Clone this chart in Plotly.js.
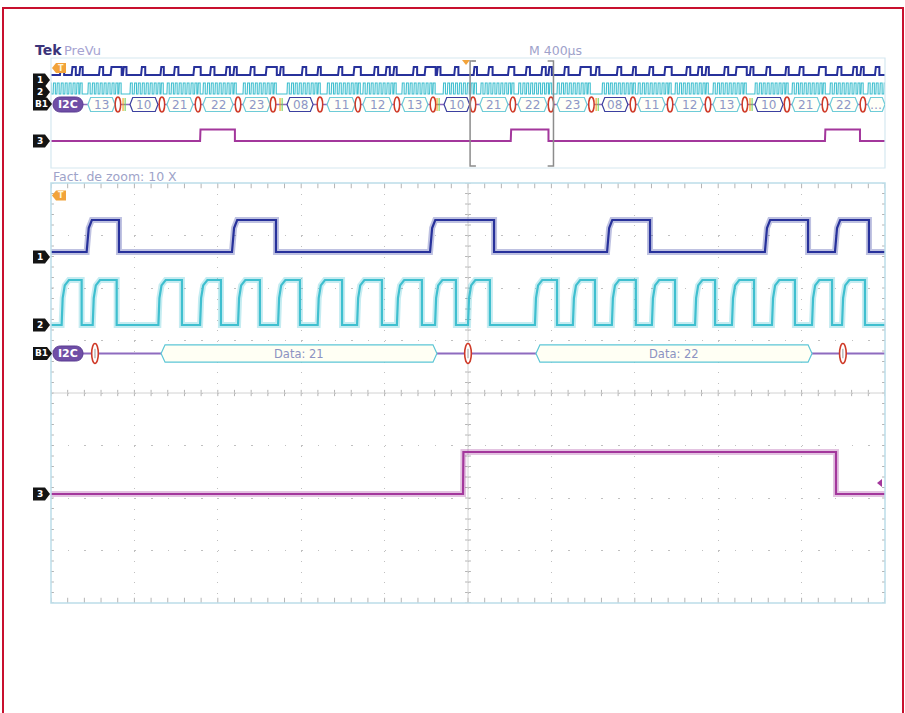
<!DOCTYPE html>
<html><head><meta charset="utf-8">
<script src="https://cdn.plot.ly/plotly-3.0.1.min.js"></script>
<style>html,body{margin:0;padding:0;background:#fff;}#chart{width:905px;height:713px;}</style>
</head><body><div id="chart"></div>
<script>
// ================= DATA (times in microseconds) =================
// Zoomed view: 40 µs/div, 10 div
const mainCh1Rise = [17.1, 86.8, 181.8, 266.7, 342.4, 376.0];
const mainCh1Fall = [32.6, 107.9, 212.5, 287.3, 363.1, 392.3];
const mainCh2Rise = [5.1, 20.0, 51.5, 71.5, 89.7, 108.9, 127.9, 146.8, 165.9, 184.2, 200.0, 232.1, 250.3, 269.0, 288.2, 308.9, 326.6, 345.8, 365.0, 379.4];
const mainCh2Fall = [14.7, 31.5, 62.8, 81.5, 100.2, 119.4, 139.6, 158.7, 177.9, 194.2, 210.5, 242.7, 260.9, 280.5, 299.3, 318.5, 337.2, 356.8, 374.6, 390.4];
const mainCh3Rise = [197.6];
const mainCh3Fall = [376.5];
const mainBusLabels = ['Data: 21', 'Data: 22'];
const mainBusStart = [52.8, 232.6];
const mainBusEnd = [185.1, 365.0];
const mainBusAck = [21.1, 200.0, 379.8];

// Overview (PreVu): 400 µs/div, 10 div
const ovCh1Rise = [43,99,136,230,286,345,432,525,590,683,763,838,875,955,1030,1098,1203,1278,1377,1451,1549,1605,1642,1736,1792,1851,1934,2027,2097,2192,2277,2352,2386,2461,2536,2612,2714,2789,2868,2942,3046,3102,3139,3228,3284,3352,3429,3522,3588,3681,3770,3845,3882,3952];
const ovCh1Fall = [63,119,152,250,339,362,452,541,611,718,784,858,891,976,1083,1115,1224,1294,1397,1486,1569,1625,1658,1756,1845,1868,1954,2043,2118,2222,2297,2373,2402,2482,2589,2630,2735,2805,2888,2977,3066,3122,3155,3248,3337,3369,3449,3538,3609,3716,3791,3865,3898,3973];
const ovByteStart = [-10,177,379,556,729,921,1132,1324,1496,1683,1881,2061,2242,2427,2643,2815,2993,3175,3376,3554,3736,3918];
const clockOffsets = [0, 20.0, 38.2, 57.4, 76.4, 95.3, 114.4, 132.7, 148.5];
const clockHigh = 10.8;
const ovCh3Rise = [715, 2205, 3712];
const ovCh3Fall = [882, 2386, 3880];
const ovBoxLabel = ['13','10','21','22','23','08','11','12','13','10','21','22','23','08','11','12','13','10','21','22','…'];
const ovBoxStart = [177,379,556,729,921,1132,1324,1496,1683,1885,2057,2240,2427,2643,2815,2993,3175,3376,3554,3736,3918];
const ovBoxEnd   = [307,513,681,873,1050,1257,1458,1635,1808,2008,2192,2379,2571,2767,2945,3127,3304,3511,3688,3870,4000];
const ovBoxAddr  = [0,1,0,0,0,1,0,0,0,1,0,0,0,1,0,0,0,1,0,0,0];
const ovAck = [321,532,705,897,1065,1290,1472,1659,1832,2024,2215,2398,2592,2791,2969,3151,3328,3530,3712,3894];
const ovStartMark = [350,1103,1856,2619,3357];
const zoomStart = 2010, zoomFactor = 10;
const chanLabels = ['1','2','B1','3'];

// ================= LAYOUT HELPERS =================
const W = 905, H = 713;
const P = (x, y) => (x / W) + ',' + (1 - y / H);
const FONT = 'DejaVu Sans, Verdana, sans-serif';
const C1 = '#27319b', C2 = '#3fbfcf', C3 = '#a3379c', CBUS = '#8e6bbf', CRED = '#cf3a28';
const M1 = [2.686, 3.295], M2 = [1.295, 2.152], M3 = [-1.924, -1.124], MB = 0.752;
const O1 = [75, 67], O2 = [94, 83], O3 = [141, 129.5], OB = 104.5;

const traces = [];
function addLine(xs, ys, color, width, xa, ya, op) {
  traces.push({type:'scatter', mode:'lines', x:xs, y:ys, xaxis:xa, yaxis:ya,
    line:{color:color, width:width}, opacity: op === undefined ? 1 : op,
    hoverinfo:'skip', showlegend:false});
}
function steps(rises, falls, lo, hi, t0, t1, shape) {
  const xs = [Math.min(t0, rises.length ? rises[0] : t0)], ys = [lo];
  for (let i = 0; i < rises.length; i++) {
    const r = rises[i], f = falls[i];
    shape.forEach(s => { xs.push(r + s[0]); ys.push(lo + (hi - lo) * s[1]); });
    xs.push(f); ys.push(hi); xs.push(f); ys.push(lo);
  }
  xs.push(t1); ys.push(lo);
  return [xs, ys];
}
function sig(rises, falls, lv, t0, t1, shape, color, xa, ya, w, halo) {
  const s = steps(rises, falls, lv[0], lv[1], t0, t1, shape);
  if (halo) addLine(s[0], s[1], color, halo, xa, ya, 0.3);
  addLine(s[0], s[1], color, w, xa, ya);
}

// ---- grid ticks (main) ----
const tx = [], ty = [];
for (let i = 0; i <= 50; i++) {
  const t = i * 8;
  tx.push(t, t, null); ty.push(-0.06, 0.06, null);
  tx.push(t, t, null); ty.push(4, 3.9, null);
  tx.push(t, t, null); ty.push(-4, -3.9, null);
}
for (let j = 0; j <= 40; j++) {
  const v = -4 + j * 0.2;
  tx.push(198.6, 201.4, null); ty.push(v, v, null);
  tx.push(0, 1.4, null); ty.push(v, v, null);
  tx.push(400, 398.6, null); ty.push(v, v, null);
}
addLine(tx, ty, '#b4b4b4', 1, 'x', 'y');
addLine([0, 400], [0, 0], '#d2d2d2', 1, 'x', 'y');
addLine([200, 200], [-4, 4], '#d2d2d2', 1, 'x', 'y');

// ---- main signals ----
sig(mainCh1Rise, mainCh1Fall, M1, 0, 400, [[0,0],[1.0,0.75],[2.5,1]], C1, 'x', 'y', 2.2, 6);
sig(mainCh2Rise, mainCh2Fall, M2, 0, 400, [[0,0],[0.5,0.6],[1.5,0.88],[3.5,1]], C2, 'x', 'y', 2.2, 6);
sig(mainCh3Rise, mainCh3Fall, M3, 0, 400, [[0,0],[0.2,1]], C3, 'x', 'y', 2.2, 6);
addLine([14.9, 400], [MB, MB], CBUS, 2, 'x', 'y');

// ---- overview signals ----
sig(ovCh1Rise, ovCh1Fall, O1, 0, 4000, [[0,0],[4,1]], C1, 'x2', 'y2', 2);
const ckR = [], ckF = [];
ovByteStart.forEach(S => clockOffsets.forEach(o => { ckR.push(S + o); ckF.push(S + o + clockHigh); }));
sig(ckR, ckF, O2, 0, 4000, [[0,0],[2,1]], C2, 'x2', 'y2', 1.1);
sig(ovCh3Rise, ovCh3Fall, O3, 0, 4000, [[0,0],[2,1]], C3, 'x2', 'y2', 2);
addLine([150, 4000], [OB, OB], CBUS, 1.5, 'x2', 'y2');

// ================= SHAPES & TEXT =================
const shapes = [], ann = [];
function hexPath(x0, x1, yc, hh, tp) {
  return `M ${x0},${yc} L ${x0+tp},${yc+hh} L ${x1-tp},${yc+hh} L ${x1},${yc} L ${x1-tp},${yc-hh} L ${x0+tp},${yc-hh} Z`;
}
function pill(x0, x1, y0, y1) {
  const r = (y1 - y0) / 2, k = r * 1.33;
  return `M ${P(x0+r,y0)} L ${P(x1-r,y0)} C ${P(x1-r+k,y0)} ${P(x1-r+k,y1)} ${P(x1-r,y1)} L ${P(x0+r,y1)} C ${P(x0+r-k,y1)} ${P(x0+r-k,y0)} ${P(x0+r,y0)} Z`;
}
function text(x, y, t, size, color, opts) {
  ann.push(Object.assign({x:x, y:y, xref:'paper', yref:'paper', text:t, showarrow:false,
    xanchor:'left', yanchor:'middle', font:{family:FONT, size:size, color:color}}, opts || {}));
}

// page border
shapes.push({type:'rect', xref:'paper', yref:'paper', x0:3/W, x1:903/W, y0:-0.05, y1:1-8/H, line:{color:'#c8102e', width:2}});
// frames
shapes.push({type:'rect', xref:'paper', yref:'paper', x0:51/W, x1:885/W, y0:1-603/H, y1:1-183/H, line:{color:'#bcdde9', width:1.5}});
shapes.push({type:'rect', xref:'paper', yref:'paper', x0:51/W, x1:885/W, y0:1-168/H, y1:1-58/H, line:{color:'#d5e8f0', width:1.2}});

// main bus decode
mainBusLabels.forEach((lab, i) => {
  shapes.push({type:'path', xref:'x', yref:'y', path:hexPath(mainBusStart[i], mainBusEnd[i], MB, 0.165, 1.9),
    fillcolor:'#fffff4', line:{color:'#5cc6d6', width:1.2}});
  ann.push({x:(mainBusStart[i]+mainBusEnd[i])/2, y:MB, xref:'x', yref:'y', text:lab, showarrow:false,
    font:{family:FONT, size:11.5, color:'#8c93c2'}});
});
mainBusAck.forEach(t => {
  shapes.push({type:'circle', xref:'x', yref:'y', x0:t-1.6, x1:t+1.6, y0:MB-0.19, y1:MB+0.19, fillcolor:'#ffffff', line:{color:CRED, width:1.6}});
  shapes.push({type:'line', xref:'x', yref:'y', x0:t, x1:t, y0:MB-0.09, y1:MB+0.09, line:{color:'#9a9a9a', width:1}});
});

// overview bus decode
ovBoxLabel.forEach((lab, i) => {
  shapes.push({type:'path', xref:'x2', yref:'y2', path:hexPath(ovBoxStart[i], ovBoxEnd[i], OB, 7, 13),
    fillcolor:'#fffff8', line:{color: ovBoxAddr[i] ? '#3b40a0' : '#6ecbd8', width:1.2}});
  ann.push({x:(ovBoxStart[i]+ovBoxEnd[i])/2, y:OB, xref:'x2', yref:'y2', text:lab, showarrow:false,
    font:{family:FONT, size:12, color:'#8d97c6'}});
});
ovAck.forEach(t => {
  shapes.push({type:'circle', xref:'x2', yref:'y2', x0:t-13, x1:t+13, y0:OB-7.5, y1:OB+7.5, fillcolor:'#ffffff', line:{color:CRED, width:1.5}});
});
ovStartMark.forEach(t => {
  shapes.push({type:'rect', xref:'x2', yref:'y2', x0:t-7, x1:t-2, y0:OB-6.5, y1:OB+6.5, fillcolor:'#f39c12', line:{width:0}});
  shapes.push({type:'rect', xref:'x2', yref:'y2', x0:t+3, x1:t+8, y0:OB-6.5, y1:OB+6.5, fillcolor:'#6fcf4f', line:{width:0}});
});

// I2C pills
[[346, 361, 353.5], [97, 112, 104.5]].forEach(p => {
  shapes.push({type:'path', xref:'paper', yref:'paper', path:pill(53, 83, p[0], p[1]), fillcolor:'#6f4ea6', line:{color:'#5a3b92', width:1}});
  text(68/W, 1 - p[2]/H, '<b>I2C</b>', 11, '#ffffff', {xanchor:'center'});
});

// channel tags (main / overview)
const tagY = [[257, 325, 353.5, 494], [80, 92, 104, 141]];
tagY.forEach(row => row.forEach((yc, i) => {
  const wb = chanLabels[i].length > 1 ? 14 : 12;
  shapes.push({type:'path', xref:'paper', yref:'paper',
    path:`M ${P(33,yc-6.5)} L ${P(33+wb,yc-6.5)} L ${P(38+wb,yc)} L ${P(33+wb,yc+6.5)} L ${P(33,yc+6.5)} Z`,
    fillcolor:'#141414', line:{width:0}});
  text((33 + wb/2 + 1)/W, 1 - yc/H, '<b>' + chanLabels[i] + '</b>', 9, '#ffffff', {xanchor:'center'});
}));

// trigger flags (orange)
[[195.5], [68]].forEach(r => {
  const yc = r[0];
  shapes.push({type:'path', xref:'paper', yref:'paper',
    path:`M ${P(52,yc)} L ${P(56,yc-5)} L ${P(66,yc-5)} L ${P(66,yc+5)} L ${P(56,yc+5)} Z`,
    fillcolor:'#f2a33a', line:{width:0}});
  text(61/W, 1 - yc/H, '<b>T</b>', 8, '#fff4d8', {xanchor:'center'});
});
// trigger position triangle on overview
shapes.push({type:'path', xref:'paper', yref:'paper', path:`M ${P(462,60)} L ${P(470,60)} L ${P(466,65)} Z`, fillcolor:'#f2a33a', line:{width:0}});
shapes.push({type:'line', xref:'paper', yref:'paper', x0:472/W, x1:476/W, y0:1-61/H, y1:1-61/H, line:{color:'#9a9a9a', width:1}});
// ch3 level marker
shapes.push({type:'path', xref:'paper', yref:'paper', path:`M ${P(877,483)} L ${P(882,479)} L ${P(882,487)} Z`, fillcolor:C3, line:{width:0}});

// zoom bracket on overview (x2 data units)
const zEnd = zoomStart + 4000 / zoomFactor, bt = 28;
shapes.push({type:'path', xref:'x2', yref:'paper', line:{color:'#8c8c8c', width:1.5},
  path:`M ${zoomStart+bt},${1-61/H} L ${zoomStart},${1-61/H} L ${zoomStart},${1-166/H} L ${zoomStart+bt},${1-166/H}`});
shapes.push({type:'path', xref:'x2', yref:'paper', line:{color:'#8c8c8c', width:1.5},
  path:`M ${zEnd-bt},${1-61/H} L ${zEnd},${1-61/H} L ${zEnd},${1-166/H} L ${zEnd-bt},${1-166/H}`});

// texts
text(33/W, 1 - 50/H, '<b>Tek</b>', 14, '#3b347a');
text(62/W, 1 - 50/H, 'PreVu', 13, '#a6a3d2');
text(527/W, 1 - 50/H, 'M 400µs', 12.5, '#9ea2cb');
text(51/W, 1 - 176/H, 'Fact. de zoom: 10 X', 12.5, '#9ea3c9');

const axBase = {showticklabels:false, ticks:'', showline:false, zeroline:false, fixedrange:true};
const layout = {
  width: W, height: H, margin:{l:0, r:0, t:0, b:0},
  paper_bgcolor:'#ffffff', plot_bgcolor:'rgba(0,0,0,0)', showlegend:false,
  xaxis: Object.assign({}, axBase, {domain:[51/W, 885/W], range:[0, 400], dtick:40, tick0:0, showgrid:true, gridcolor:'#c0c0c0', gridwidth:1, griddash:'1.2px,9.3px', anchor:'y'}),
  yaxis: Object.assign({}, axBase, {domain:[1-603/H, 1-183/H], range:[-4, 4], dtick:1, tick0:0, showgrid:true, gridcolor:'#c0c0c0', gridwidth:1, griddash:'1.5px,15.18px', anchor:'x'}),
  xaxis2: Object.assign({}, axBase, {domain:[51/W, 885/W], range:[0, 4000], showgrid:false, anchor:'y2'}),
  yaxis2: Object.assign({}, axBase, {domain:[1-168/H, 1-58/H], range:[168, 58], showgrid:false, anchor:'x2'}),
  shapes: shapes, annotations: ann
};
Plotly.newPlot('chart', traces, layout, {staticPlot:true, displayModeBar:false});
</script>
</body></html>
